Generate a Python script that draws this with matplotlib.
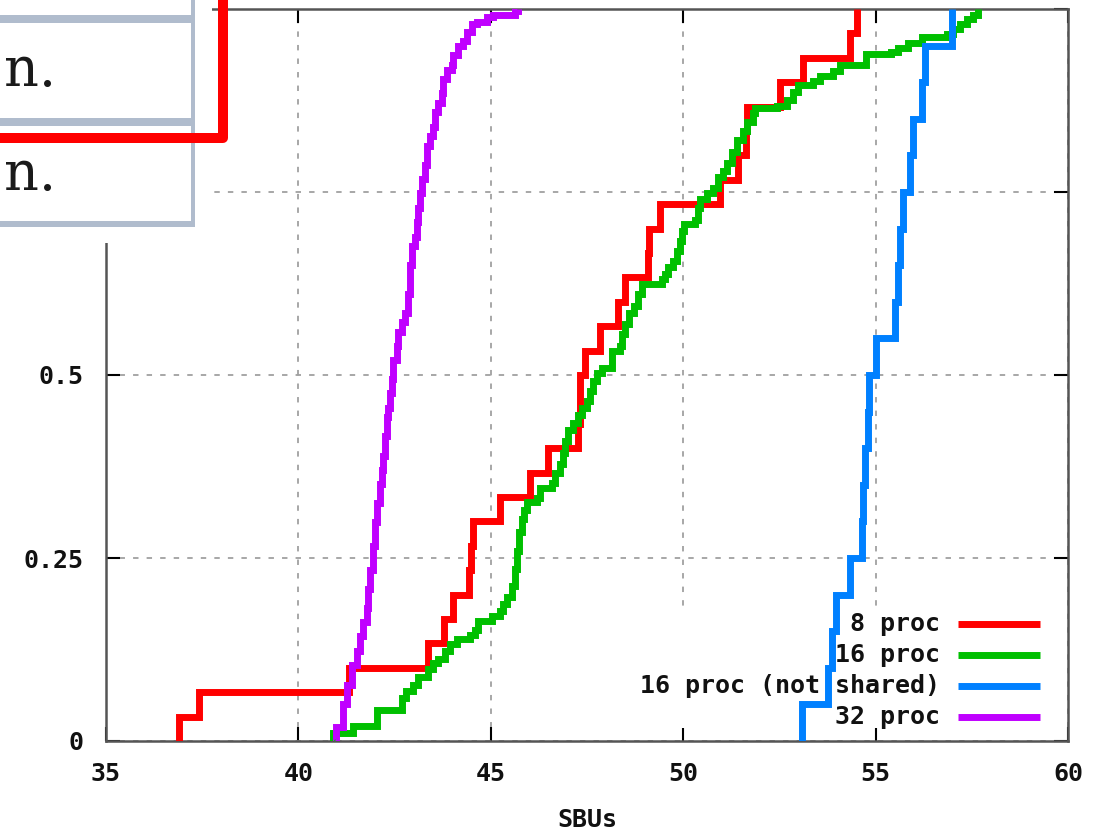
import matplotlib
matplotlib.use("Agg")
import matplotlib.pyplot as plt
import numpy as np
from matplotlib.patches import Rectangle
from matplotlib.lines import Line2D

# ---------------- data ----------------
x_ticks = [35, 40, 45, 50, 55, 60]
x_tick_labels = ["35", "40", "45", "50", "55", "60"]
y_ticks = [0, 0.25, 0.5, 0.75, 1.0]
# labels of 0.75 and 1 are hidden under the pasted box in the reference
y_tick_labels = ["0", "0.25", "0.5", "", ""]
x_label = "SBUs"

series_names = ["8 proc", "16 proc", "16 proc (not shared)", "32 proc"]
series_colors = ["#ff0000", "#00c000", "#0080ff", "#c000ff"]

# 8 proc: sorted samples (ECDF)
proc8_samples = [36.90, 37.42, 41.32, 43.37, 43.79, 44.03, 44.44, 44.48, 44.55, 45.24,
                 46.02, 46.49, 47.27, 47.31, 47.33, 47.45, 47.84, 48.31, 48.49, 49.09,
                 49.12, 49.40, 50.96, 51.43, 51.62, 51.65, 52.52, 53.12, 54.33, 54.51]

# 16 proc (not shared): sorted samples (ECDF)
proc16ns_samples = [53.08, 53.76, 53.86, 53.96, 54.33, 54.64, 54.68, 54.72, 54.79, 54.82,
                    55.01, 55.50, 55.59, 55.63, 55.72, 55.89, 55.98, 56.20, 56.29, 56.98]

# 16 proc: step corners (x, cumulative fraction)
proc16_x = [40.91, 40.91, 41.43, 42.03, 42.68, 42.80, 42.98, 43.10, 43.38, 43.51, 43.62,
            43.81, 43.94, 44.11, 44.46, 44.59, 44.68, 45.02, 45.24, 45.32, 45.43, 45.54,
            45.63, 45.67, 45.72, 45.80, 45.87, 45.93, 46.19, 46.28, 46.58, 46.67, 46.80,
            46.88, 46.93, 47.01, 47.14, 47.27, 47.36, 47.49, 47.58, 47.66, 47.75, 47.88,
            48.14, 48.36, 48.40, 48.49, 48.60, 48.72, 48.83, 48.92, 49.44, 49.53, 49.61,
            49.74, 49.83, 49.92, 49.96, 50.01, 50.30, 50.39, 50.44, 50.61, 50.78, 50.91,
            51.04, 51.15, 51.28, 51.39, 51.56, 51.67, 51.82, 51.87, 52.43, 52.69, 52.86,
            52.99, 53.38, 53.55, 53.90, 54.07, 54.74, 55.41, 55.59, 55.85, 56.20, 56.85,
            57.02, 57.19, 57.37, 57.54, 57.67]
proc16_y = [0.0, 0.011, 0.020, 0.043, 0.059, 0.068, 0.077, 0.087, 0.098, 0.107, 0.112,
            0.123, 0.132, 0.139, 0.145, 0.152, 0.164, 0.171, 0.178, 0.187, 0.197, 0.212,
            0.235, 0.260, 0.285, 0.303, 0.316, 0.326, 0.332, 0.346, 0.352, 0.366, 0.378,
            0.394, 0.410, 0.425, 0.435, 0.446, 0.455, 0.464, 0.478, 0.492, 0.503, 0.510,
            0.533, 0.540, 0.556, 0.569, 0.585, 0.594, 0.610, 0.624, 0.631, 0.638, 0.647,
            0.656, 0.669, 0.683, 0.697, 0.706, 0.712, 0.728, 0.740, 0.748, 0.756, 0.770,
            0.779, 0.790, 0.805, 0.821, 0.833, 0.845, 0.858, 0.865, 0.868, 0.876, 0.887,
            0.896, 0.902, 0.908, 0.915, 0.924, 0.938, 0.941, 0.947, 0.954, 0.962, 0.966,
            0.973, 0.980, 0.986, 0.992, 1.0]

# 32 proc: step corners
proc32_x = [40.95, 40.99, 41.17, 41.25, 41.38, 41.51, 41.60, 41.69, 41.77, 41.82, 41.86,
            41.95, 41.99, 42.03, 42.12, 42.16, 42.21, 42.25, 42.29, 42.34, 42.38, 42.42,
            42.47, 42.55, 42.60, 42.68, 42.77, 42.86, 42.90, 42.94, 43.03, 43.07, 43.12,
            43.16, 43.20, 43.29, 43.33, 43.42, 43.51, 43.55, 43.64, 43.72, 43.77, 43.85,
            43.98, 44.03, 44.16, 44.29, 44.37, 44.50, 44.63, 44.89, 45.06, 45.62, 45.71]
proc32_y = [0.0, 0.019, 0.051, 0.077, 0.104, 0.123, 0.143, 0.162, 0.182, 0.208, 0.234,
            0.266, 0.299, 0.325, 0.351, 0.370, 0.390, 0.416, 0.442, 0.455, 0.475, 0.494,
            0.520, 0.540, 0.559, 0.572, 0.585, 0.611, 0.650, 0.676, 0.689, 0.709, 0.728,
            0.748, 0.768, 0.787, 0.813, 0.826, 0.839, 0.859, 0.872, 0.885, 0.904, 0.917,
            0.924, 0.937, 0.950, 0.956, 0.969, 0.979, 0.982, 0.989, 0.992, 0.997, 1.0]

overlay_text = ["n.", "n."]

# ---------------- figure ----------------
W, H = 1111, 834
fig = plt.figure(figsize=(W / 100, H / 100), dpi=100)
L, R, B, T = 106, 1068, 741, 9
ax = fig.add_axes([L / W, 1 - B / H, (R - L) / W, (B - T) / H])

def ecdf(samples):
    s = np.asarray(samples, dtype=float)
    n = len(s)
    xs = np.concatenate([[s[0]], s])
    ys = np.concatenate([[0.0], np.arange(1, n + 1) / n])
    return xs, ys

curves = [ecdf(proc8_samples),
          (np.array(proc16_x), np.array(proc16_y)),
          ecdf(proc16ns_samples),
          (np.array(proc32_x), np.array(proc32_y))]

LW = 5.0
for (xs, ys), c in zip(curves, series_colors):
    ax.step(xs, ys, where="post", color=c, lw=LW, zorder=3,
            solid_joinstyle="miter", solid_capstyle="butt")

ax.set_xlim(35, 60)
ax.set_ylim(0, 1)
ax.set_xticks(x_ticks)
ax.set_xticklabels(x_tick_labels)
ax.set_yticks(y_ticks)
ax.set_yticklabels(y_tick_labels)

FS = 18
for lab in ax.get_xticklabels() + ax.get_yticklabels():
    lab.set_fontfamily("DejaVu Sans Mono")
    lab.set_fontweight("bold")
    lab.set_fontsize(FS)
    lab.set_color("#111111")

ax.tick_params(axis="both", direction="in", length=10, width=1.5, color="black",
               top=True, right=True)
ax.tick_params(axis="x", pad=15)
ax.tick_params(axis="y", pad=16)

ax.set_axisbelow(True)
ax.grid(True, color="#a0a0a0", lw=1.3, linestyle=(0, (3, 4.5)))

for sp in ax.spines.values():
    sp.set_color("#555555")
    sp.set_linewidth(1.8)

ax.set_xlabel(x_label, fontfamily="DejaVu Sans Mono", fontweight="bold",
              fontsize=FS, labelpad=16, color="#111111")

# key (gnuplot style, right-justified text, sample line to the right)
def ax_x(px):
    return (px - L) / (R - L)

def ax_y(py):
    return (B - py) / (B - T)

ax.add_patch(Rectangle((ax_x(600), ax_y(728)), ax_x(1052) - ax_x(600),
                       ax_y(606) - ax_y(728), transform=ax.transAxes,
                       facecolor="white", edgecolor="none", zorder=1))
rows_py = [624, 655, 686, 717]
for name, c, py in zip(series_names, series_colors, rows_py):
    ax.text(ax_x(940), ax_y(py), name, transform=ax.transAxes, ha="right",
            va="center", fontfamily="DejaVu Sans Mono", fontweight="bold",
            fontsize=FS, color="#111111", zorder=2)
    ax.plot([ax_x(958), ax_x(1040)], [ax_y(py), ax_y(py)], transform=ax.transAxes,
            color=c, lw=LW, solid_capstyle="butt", zorder=2)

# ---------------- overlay in the top-left corner (cropped screenshot) -------------
def fx(px):
    return px / W

def fy(py):
    return 1 - py / H

fig.add_artist(Rectangle((0, fy(243)), fx(212), 243 / H, transform=fig.transFigure,
                         facecolor="white", edgecolor="none", zorder=10))
border = "#b0bccd"
for py, lwpx in [(19, 8), (122, 8), (223.5, 6)]:
    fig.add_artist(Line2D([fx(-5), fx(195)], [fy(py), fy(py)], transform=fig.transFigure,
                          color=border, lw=lwpx * 0.72, zorder=11, solid_capstyle="butt"))
fig.add_artist(Line2D([fx(193), fx(193)], [fy(-5), fy(227)], transform=fig.transFigure,
                      color=border, lw=4 * 0.72, zorder=11, solid_capstyle="butt"))
for txt, base_py in zip(overlay_text, [86, 190]):
    fig.text(fx(56), fy(base_py), txt, ha="right", va="baseline",
             fontfamily="DejaVu Serif", fontsize=39, color="#1a1a1a", zorder=12)
fig.add_artist(Line2D([fx(-10), fx(223), fx(223)], [fy(138), fy(138), fy(-10)],
                      transform=fig.transFigure, color="#ff0000", lw=10 * 0.72,
                      solid_joinstyle="round", zorder=13))

fig.savefig("out.png", dpi=100)
